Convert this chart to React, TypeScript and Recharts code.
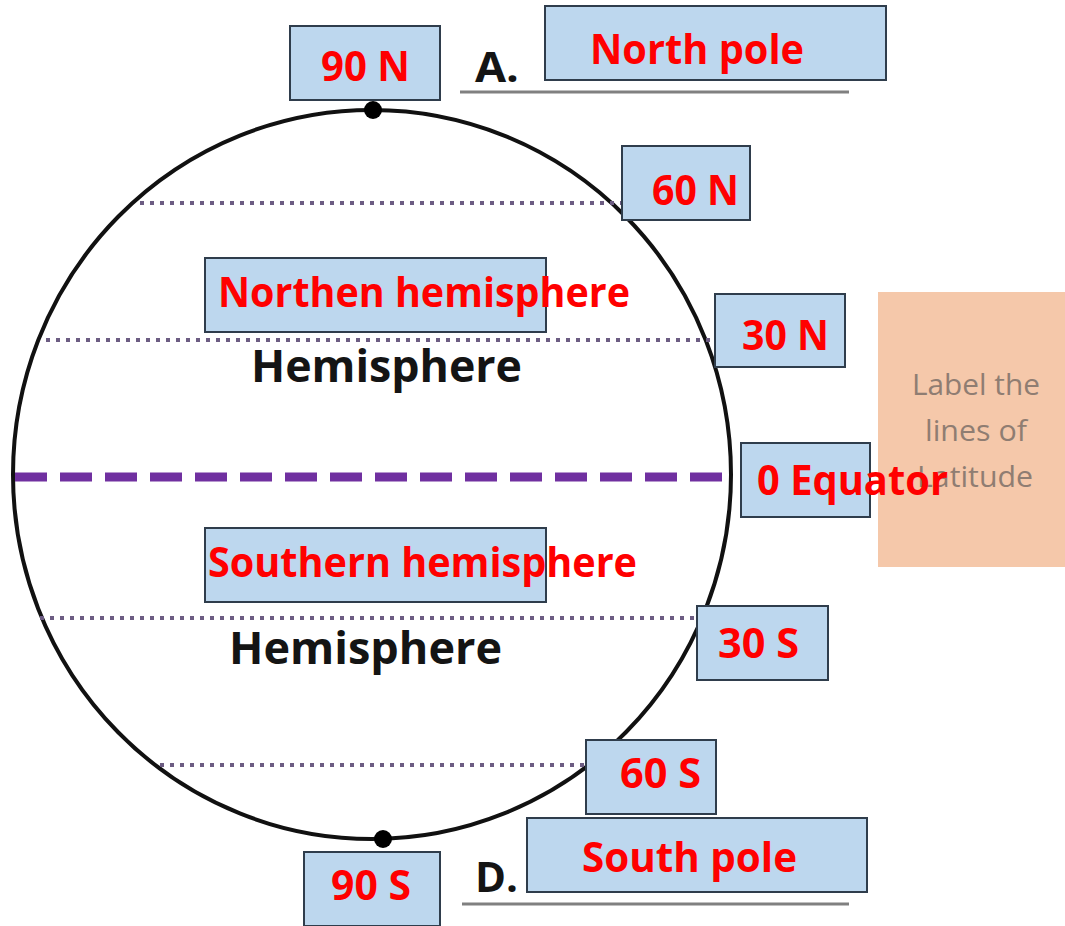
import { ComposedChart, XAxis, YAxis, Scatter, ReferenceArea, ReferenceLine, ReferenceDot } from "recharts"

const W = 1065
const H = 926
const FONT = "'Open Sans', 'DejaVu Sans', sans-serif"

// names, top to bottom
const latitudes = ["90 N", "60 N", "30 N", "0 Equator", "30 S", "60 S", "90 S"]
const poleNames = ["North pole", "South pole"]
const hemispheres = ["Northen hemisphere", "Southern hemisphere"]
const blanks = ["A.", "D."]
const hint = ["Label the", "lines of", "Latitude"]

// diagram units == pixels (x right, y down)
const globe = { x: 372, y: 474.5 }
const poles = [
  { x: 373, y: 110 },
  { x: 383, y: 839 },
]

// parallels: y level and where they meet the rim / a box
const parallelY = [203, 340, 477, 618, 765]
const parallelFrom = [140, 46, 15, 40, 160]
const parallelTo = [622, 715, 726, 697, 586]

const underlines = [
  { y: 92, x1: 460, x2: 849 },
  { y: 904, x1: 462, x2: 849 },
]

// answer boxes, same order as latitudes, then poles, then hemispheres
const latBoxes = [
  { x1: 290, x2: 440, y1: 26, y2: 100 },
  { x1: 622, x2: 750, y1: 146, y2: 220 },
  { x1: 715, x2: 845, y1: 294, y2: 367 },
  { x1: 741, x2: 870, y1: 443, y2: 517 },
  { x1: 697, x2: 828, y1: 606, y2: 680 },
  { x1: 586, x2: 716, y1: 740, y2: 814 },
  { x1: 304, x2: 440, y1: 852, y2: 926 },
]
const poleBoxes = [
  { x1: 545, x2: 886, y1: 6, y2: 80 },
  { x1: 527, x2: 867, y1: 818, y2: 892 },
]
const hemiBoxes = [
  { x1: 205, x2: 546, y1: 258, y2: 332 },
  { x1: 205, x2: 546, y1: 528, y2: 602 },
]
const hintBox = { x1: 878, x2: 1065, y1: 292, y2: 567 }

type Txt = { text: string; x: number; y: number; w: number; size: number; color: string; weight: number }

const RED = "#ff0000"
const INK = "#141414"
const GREY = "#8f7d72"

// grey hint first so the red answers sit on top of it
const texts: Txt[] = [
  { text: hint[0], x: 912, y: 395, w: 128, size: 30, color: GREY, weight: 400 },
  { text: hint[1], x: 925, y: 441, w: 102, size: 30, color: GREY, weight: 400 },
  { text: hint[2], x: 917, y: 487, w: 116, size: 30, color: GREY, weight: 400 },
  { text: latitudes[0], x: 321, y: 81, w: 89, size: 41, color: RED, weight: 700 },
  { text: latitudes[1], x: 652, y: 205, w: 87, size: 41, color: RED, weight: 700 },
  { text: latitudes[2], x: 742, y: 350, w: 87, size: 41, color: RED, weight: 700 },
  { text: latitudes[3], x: 757, y: 495, w: 191, size: 41, color: RED, weight: 700 },
  { text: latitudes[4], x: 718, y: 658, w: 81, size: 41, color: RED, weight: 700 },
  { text: latitudes[5], x: 620, y: 788, w: 81, size: 41, color: RED, weight: 700 },
  { text: latitudes[6], x: 331, y: 900, w: 80, size: 41, color: RED, weight: 700 },
  { text: poleNames[0], x: 590, y: 64, w: 214, size: 41, color: RED, weight: 700 },
  { text: poleNames[1], x: 582, y: 872, w: 215, size: 41, color: RED, weight: 700 },
  { text: hemispheres[0], x: 218, y: 307, w: 412, size: 41, color: RED, weight: 700 },
  { text: hemispheres[1], x: 208, y: 577, w: 429, size: 41, color: RED, weight: 700 },
  { text: "Hemisphere", x: 251, y: 382, w: 271, size: 44, color: INK, weight: 700 },
  { text: "Hemisphere", x: 229, y: 664, w: 273, size: 44, color: INK, weight: 700 },
  { text: blanks[0], x: 475, y: 82, w: 44, size: 42, color: INK, weight: 700 },
  { text: blanks[1], x: 475, y: 892, w: 43, size: 42, color: INK, weight: 700 },
]

const boxStyle = { fill: "#bdd7ee", fillOpacity: 1, stroke: "#2f3d4c", strokeWidth: 2 }

export default function App() {
  return (
    <div style={{ position: "absolute", left: 0, top: 0, width: W, height: H, background: "#fff" }}>
      <ComposedChart width={W} height={H} margin={{ top: 0, right: 0, bottom: 0, left: 0 }}>
        <XAxis type="number" dataKey="x" domain={[0, W]} hide allowDataOverflow />
        <YAxis type="number" dataKey="y" domain={[0, H]} reversed hide allowDataOverflow />

        <ReferenceDot
          x={globe.x}
          y={globe.y}
          r={1}
          ifOverflow="visible"
          zIndex={100}
          shape={(p: any) => (
            <ellipse cx={p.cx} cy={p.cy} rx={359} ry={364.5} fill="none" stroke="#111" strokeWidth={4} />
          )}
        />

        {parallelY.map((y, i) => {
          const eq = i === 2
          return (
            <ReferenceLine
              key={"p" + i}
              segment={[
                { x: parallelFrom[i], y },
                { x: parallelTo[i], y },
              ]}
              ifOverflow="visible"
              zIndex={200}
              stroke={eq ? "#7030a0" : "#6c5c82"}
              strokeWidth={eq ? 9 : 4}
              strokeDasharray={eq ? "32 13" : "4 6"}
            />
          )
        })}

        {underlines.map((u, i) => (
          <ReferenceLine
            key={"u" + i}
            segment={[
              { x: u.x1, y: u.y },
              { x: u.x2, y: u.y },
            ]}
            ifOverflow="visible"
            zIndex={200}
            stroke="#808080"
            strokeWidth={3}
          />
        ))}

        <Scatter
          data={poles}
          isAnimationActive={false}
          zIndex={300}
          shape={(p: any) => <circle cx={p.cx} cy={p.cy} r={9} fill="#000" />}
        />

        {[...latBoxes, ...poleBoxes, ...hemiBoxes].map((b, i) => (
          <ReferenceArea key={"b" + i} {...b} {...boxStyle} ifOverflow="visible" zIndex={400} />
        ))}
        <ReferenceArea {...hintBox} fill="#f5c8aa" fillOpacity={1} stroke="none" ifOverflow="visible" zIndex={400} />

        {texts.map((t, i) => (
          <ReferenceDot
            key={"t" + i}
            x={t.x}
            y={t.y}
            r={1}
            ifOverflow="visible"
            zIndex={500}
            shape={(p: any) => (
              <text
                x={p.cx}
                y={p.cy}
                fill={t.color}
                fontFamily={FONT}
                fontSize={t.size}
                fontWeight={t.weight}
                textLength={t.w}
                lengthAdjust="spacingAndGlyphs"
              >
                {t.text}
              </text>
            )}
          />
        ))}
      </ComposedChart>
    </div>
  )
}
